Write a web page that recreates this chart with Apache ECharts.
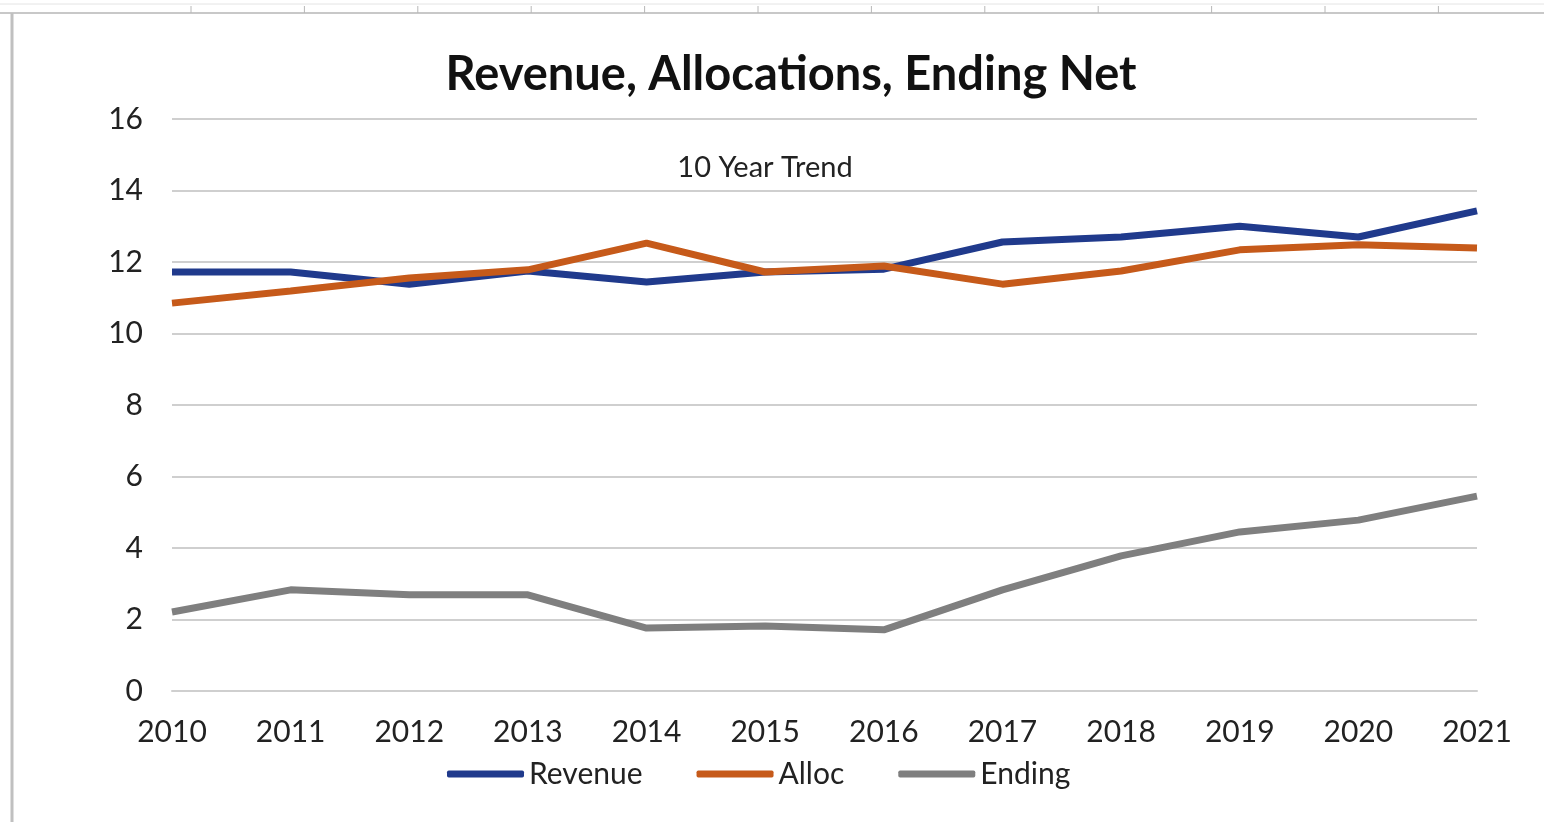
<!DOCTYPE html>
<html>
<head>
<meta charset="utf-8">
<title>Revenue, Allocations, Ending Net</title>
<script src="https://cdn.jsdelivr.net/npm/echarts@6/dist/echarts.min.js"></script>
<style>
  html, body { margin: 0; padding: 0; background: #fff; }
  #main { width: 1544px; height: 822px; }
</style>
</head>
<body>
<div id="main"></div>
<script>
// years on the x axis
var years = ['2010', '2011', '2012', '2013', '2014', '2015', '2016', '2017', '2018', '2019', '2020', '2021'];
// values
var revenue = [11.72, 11.72, 11.38, 11.75, 11.44, 11.72, 11.8, 12.56, 12.7, 13.0, 12.7, 13.43];
var alloc = [10.85, 11.19, 11.55, 11.78, 12.53, 11.72, 11.89, 11.38, 11.75, 12.34, 12.48, 12.39];
var ending = [2.21, 2.83, 2.69, 2.69, 1.76, 1.82, 1.71, 2.83, 3.78, 4.45, 4.78, 5.45];

var font = 'Lato';

// ruler-like frame at the top and left (screenshot edge)
var frame = [
  { type: 'line', shape: { x1: 0, y1: 13, x2: 1544, y2: 13 }, style: { stroke: '#c8c8c8', lineWidth: 2 } },
  { type: 'line', shape: { x1: 0, y1: 4, x2: 1544, y2: 4 }, style: { stroke: '#e4e4e4', lineWidth: 1 } },
  { type: 'line', shape: { x1: 12, y1: 13, x2: 12, y2: 822 }, style: { stroke: '#c0c0c0', lineWidth: 3 } }
];
for (var i = 0; i < 13; i++) {
  var tx = 191 + i * 113.4;
  if (tx > 1540) break;
  frame.push({ type: 'line', shape: { x1: tx, y1: 6, x2: tx, y2: 13 }, style: { stroke: '#b8b8b8', lineWidth: 1 } });
}

var chart = echarts.init(document.getElementById('main'), null, { renderer: 'canvas' });

var option = {
  backgroundColor: '#ffffff',
  color: ['#203a8c', '#c65a1a', '#7f7f7f'],
  title: [{
    text: 'Revenue, Allocations, Ending Net',
    left: 786,
    textAlign: 'center',
    top: 46,
    textStyle: { fontFamily: font, fontWeight: 'bold', fontSize: 47, color: '#111' }
  }, {
    text: '10 Year Trend',
    left: 760,
    textAlign: 'center',
    top: 148,
    textStyle: { fontFamily: font, fontWeight: 'normal', fontSize: 29, color: '#222' }
  }],
  legend: {
    bottom: 28,
    left: 442,
    icon: 'roundRect',
    itemWidth: 77,
    itemHeight: 7,
    itemGap: 54,
    textStyle: { fontFamily: font, fontSize: 30, color: '#222' },
    data: ['Revenue', 'Alloc', 'Ending']
  },
  grid: {
    left: 172,
    right: 67,
    top: 119,
    bottom: 131,
    containLabel: false
  },
  xAxis: {
    type: 'category',
    boundaryGap: false,
    data: years,
    axisTick: { show: false },
    axisLine: { show: true, lineStyle: { color: '#cfcfcf', width: 2 } },
    axisLabel: { fontFamily: font, fontSize: 30, color: '#222', margin: 26 }
  },
  yAxis: {
    type: 'value',
    min: 0,
    max: 16,
    interval: 2,
    axisTick: { show: false },
    axisLine: { show: false },
    axisLabel: { fontFamily: font, fontSize: 30, color: '#222', margin: 29 },
    splitLine: { lineStyle: { color: '#cfcfcf', width: 2 } }
  },
  series: [{
    name: 'Revenue',
    type: 'line',
    data: revenue,
    showSymbol: false,
    symbol: 'none',
    lineStyle: { width: 7, color: '#203a8c' }
  }, {
    name: 'Alloc',
    type: 'line',
    data: alloc,
    showSymbol: false,
    symbol: 'none',
    lineStyle: { width: 7, color: '#c65a1a' }
  }, {
    name: 'Ending',
    type: 'line',
    data: ending,
    showSymbol: false,
    symbol: 'none',
    lineStyle: { width: 7, color: '#7f7f7f' }
  }],
  graphic: frame
};

chart.setOption(option);
</script>
</body>
</html>
